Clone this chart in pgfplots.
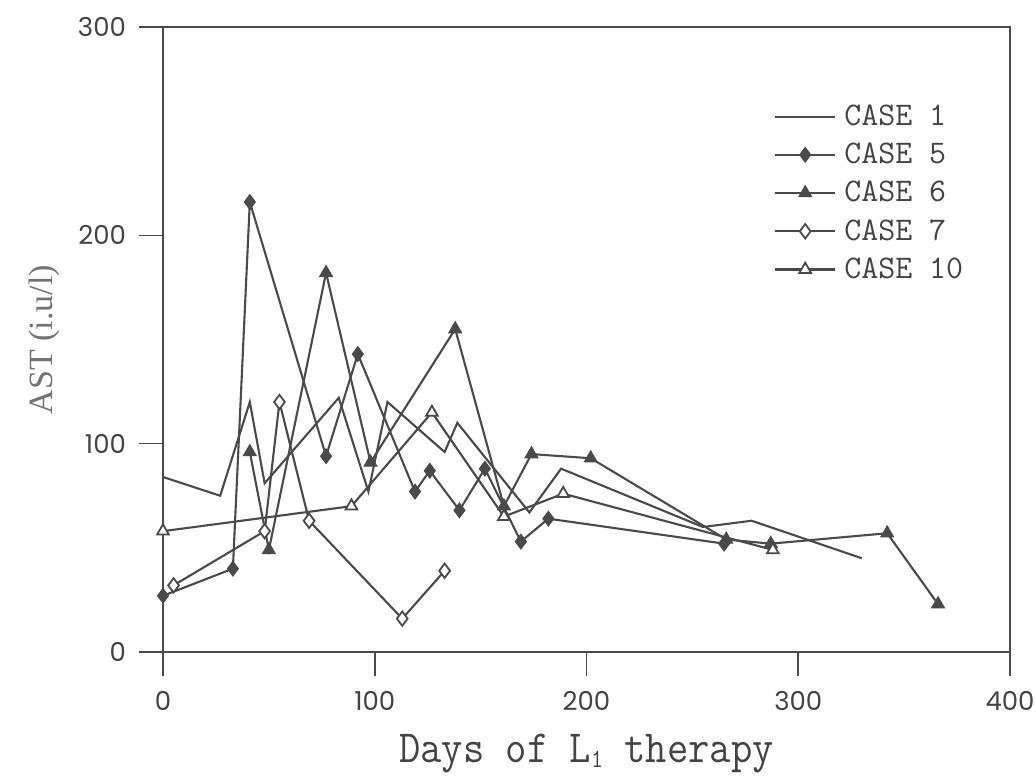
\documentclass[border=0pt]{standalone}
\usepackage{pgfplots}
\pgfplotsset{compat=1.18}
\usepackage{fontspec}
\setmainfont{Liberation Serif}
\newfontfamily\tickfont{Poppins}
\definecolor{ln}{HTML}{4A4A4A}
\definecolor{tx}{HTML}{444444}
\begin{document}
\begin{tikzpicture}
\begin{axis}[
  scale only axis,
  width=423.5pt, height=312.5pt,
  xmin=0, xmax=400, ymin=0, ymax=300,
  xtick={0,100,200,300,400}, ytick={0,100,200,300},
  xtick pos=left, ytick pos=left,
  tick align=outside,
  major tick length=12pt,
  axis line style={ln, line width=0.8pt},
  every tick/.style={ln, line width=0.8pt},
  tick label style={font=\tickfont\fontsize{13}{13}\selectfont, text=tx},
  /pgf/number format/assume math mode=true,
  xticklabel style={yshift=-4pt},
  yticklabel style={xshift=-3pt},
  xlabel={\scalebox{0.9}[1]{\ttfamily\fontsize{23}{23}\selectfont Days of L\raisebox{-0.25ex}{\fontsize{13}{13}\selectfont 1} therapy}},
  xlabel style={text=tx, yshift=-5pt},
  ylabel={\fontsize{17}{17}\selectfont AST (i.u/l)},
  ylabel style={text=gray!90!black, yshift=2pt},
  legend style={draw=none, fill=none, at={(0.714,0.889)}, anchor=north west,
    font=\ttfamily\fontsize{16.5}{16.5}\selectfont, text=tx, row sep=3.3pt,
    nodes={inner xsep=4pt}},
  legend cell align=left,
  legend image code/.code={
    \draw[#1, mark=none] (0pt,0pt) -- (30pt,0pt);
    \draw[#1, only marks] plot coordinates {(15pt,0pt)};
  },
  every axis plot/.append style={ln, line width=1.05pt},
]
\addplot[mark=none] coordinates {
(0,84) (27,75) (41,120) (48,81) (83,122) (97,77) (106,120) (133,96) (139,110) (173,67) (188,88) (255,60) (278,63) (330,45)};
\addlegendentry{CASE 1}
\addplot[mark=diamond*, mark size=3.6pt, mark options={solid, fill=ln, draw=ln, line width=0.6pt}] coordinates {
(0,27) (33,40) (41,216) (77,94) (92,143) (119,77) (126,87) (140,68) (152,88) (169,53) (182,64) (265,52)};
\addlegendentry{CASE 5}
\addplot[mark=triangle*, mark size=3.6pt, mark options={solid, fill=ln, draw=ln, line width=0.6pt}] coordinates {
(41,96) (50,49) (77,182) (98,91) (138,155) (161,70) (174,95) (202,93) (266,54) (287,52) (342,57) (366,23)};
\addlegendentry{CASE 6}
\addplot[mark=diamond*, mark size=3.6pt, mark options={solid, fill=white, draw=ln, line width=0.9pt}] coordinates {
(5,32) (48,58) (55,120) (69,63) (113,16) (133,39)};
\addlegendentry{CASE 7}
\addplot[mark=triangle*, mark size=3.4pt, mark options={solid, fill=white, draw=ln, line width=0.9pt}] coordinates {
(0,58) (89,70) (127,115) (161,65) (189,76) (288,49)};
\addlegendentry{CASE 10}
\end{axis}
\pgfresetboundingbox
\useasboundingbox ([xshift=-81.5pt,yshift=-64pt]current axis.south west) rectangle ([xshift=13pt,yshift=13.5pt]current axis.north east);
\end{tikzpicture}
\end{document}
